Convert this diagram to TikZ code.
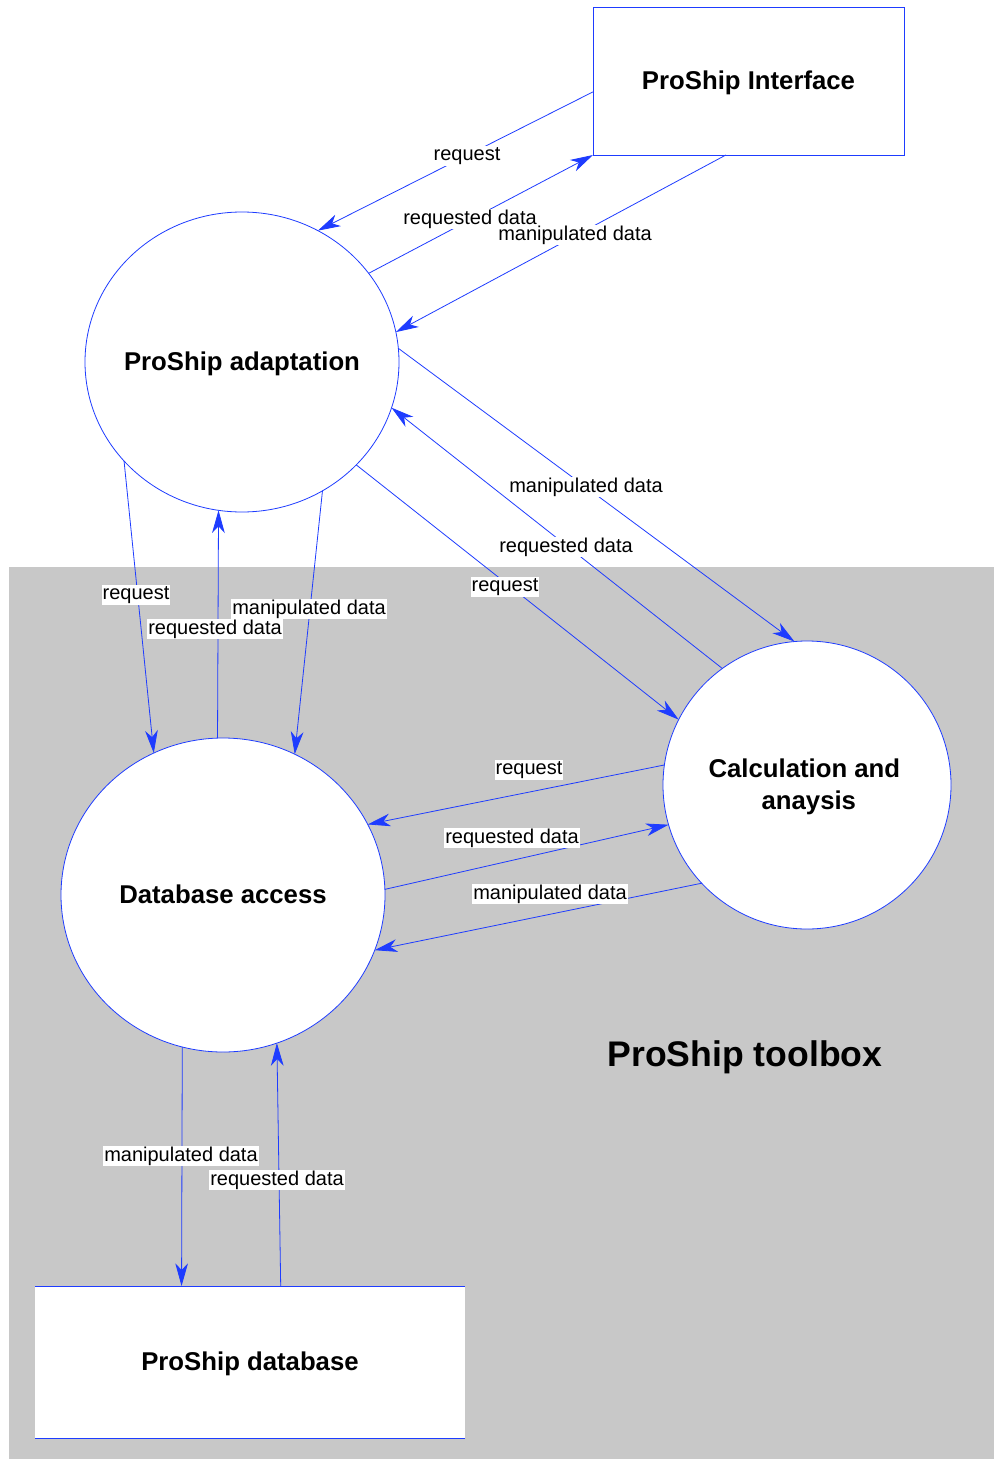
\documentclass[tikz,border=0pt]{standalone}
\usepackage{fontspec}
\setmainfont{Liberation Sans}
\usetikzlibrary{shapes.geometric,arrows.meta}
\definecolor{lineblue}{RGB}{30,60,255}
\definecolor{bggray}{RGB}{200,200,200}
\tikzset{
  flow/.style={draw=lineblue, line width=0.6pt, -{Stealth[length=17pt,width=9.5pt,inset=5pt]}},
  ntext/.style={font=\fontsize{19.3}{24}\selectfont\bfseries, align=center, yshift=-1.5pt},
  proc/.style={ellipse, draw=lineblue, line width=0.6pt, fill=white, inner sep=0pt, outer sep=0pt},
  ext/.style={rectangle, fill=white, inner sep=0pt, outer sep=0pt},
  lbl/.style={fill=white, inner sep=0.8pt, font=\fontsize{15}{17}\selectfont}
}
\begin{document}
\begin{tikzpicture}[x=0.75pt,y=-0.75pt]
\useasboundingbox (0,0) rectangle (994,1459);
\fill[white] (0,0) rectangle (994,1459);
\fill[bggray] (9,567) rectangle (994,1459);
\node[font=\fontsize{26.7}{30}\selectfont\bfseries] (tb) at (745,1057) {ProShip toolbox};

\node[ext, draw=lineblue, line width=0.6pt, minimum width=233.25pt, minimum height=111pt,
  label={[ntext]center:ProShip Interface}] (iface) at (748.5,81) {};
\node[ext, minimum width=322.5pt, minimum height=114pt,
  label={[ntext]center:ProShip database}] (db) at (250,1362) {};
\draw[lineblue, line width=0.6pt] (db.north west) -- (db.north east) (db.south west) -- (db.south east);

\node[proc, minimum width=235.5pt, minimum height=225pt,
  label={[ntext]center:ProShip adaptation}] (adapt) at (242,362) {};
\node[proc, minimum width=216pt, minimum height=216pt,
  label={[ntext, xshift=-2pt]center:Calculation and\\\hspace*{0.35em}anaysis}] (calc) at (807,785) {};
\node[proc, minimum width=243pt, minimum height=235.5pt,
  label={[ntext, yshift=1.8pt]center:Database access}] (dba) at (223,895) {};

% connectors
\draw[flow] (iface.184) -- (adapt.60.1);
\draw[flow] (adapt.35.2) -- (iface.south west);
\draw[flow] (iface.-107.6) -- (adapt.11.7);
\draw[flow] (adapt.5.1) -- (calc.95.6);
\draw[flow] (calc.126.6) -- (adapt.-17.2);
\draw[flow] (adapt.-42.9) -- (calc.153.6);
\draw[flow] (adapt.-140.3) -- (dba.116.9);
\draw[flow] (dba.92.2) -- (adapt.-99.6);
\draw[flow] (adapt.-58.3) -- (dba.63.8);
\draw[flow] (calc.172.4) -- (dba.26.4);
\draw[flow] (dba.2.8) -- (calc.196.7);
\draw[flow] (calc.-137.2) -- (dba.-20.8);
\draw[flow] (dba.-105.4) -- (db.132.2);
\draw[flow] (db.68.5) -- (dba.-70.1);

% labels
\node[lbl] (l1) at (467,156) {request};
\node[lbl] (l2) at (470,219) {requested data};
\node[lbl] (l3) at (575,235) {manipulated data};
\node[lbl] (l4) at (586,487) {manipulated data};
\node[lbl] (l5) at (566,547) {requested data};
\node[lbl] (l6) at (505,587) {request};
\node[lbl] (l7) at (136,595) {request};
\node[lbl] (l8) at (215,629) {requested data};
\node[lbl] (l9) at (309,609) {manipulated data};
\node[lbl] (l10) at (529,770) {request};
\node[lbl] (l11) at (512,838) {requested data};
\node[lbl] (l12) at (550,894) {manipulated data};
\node[lbl] (l13) at (181,1156) {manipulated data};
\node[lbl] (l14) at (277,1180) {requested data};
\end{tikzpicture}
\end{document}
